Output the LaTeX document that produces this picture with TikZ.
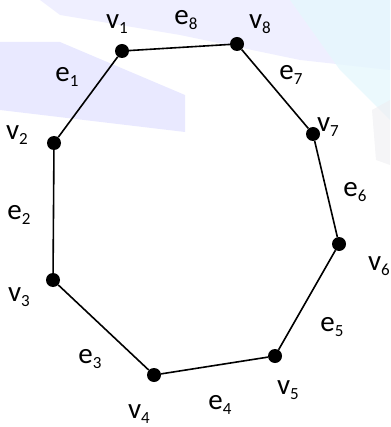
\documentclass[tikz,border=0pt]{standalone}
\usepackage{fontspec}
\setmainfont{Carlito}
\newcommand{\lbl}[2]{#1{\fontsize{17}{17}\selectfont\raisebox{-4.5pt}{#2}}}
\begin{document}
\begin{tikzpicture}[x=1pt,y=-1pt,
  vtx/.style={circle,fill=black,inner sep=0pt,minimum size=14pt},
  edg/.style={line width=1.6pt,black},
  lab/.style={font=\fontsize{29}{29}\selectfont,inner sep=0pt}]
\useasboundingbox (0,0) rectangle (390,427);
% faint background
\fill[blue!10!white,opacity=0.6] (40,0) -- (390,0) -- (390,70) -- (300,60) -- (180,35) -- (60,15) -- cycle;
\fill[cyan!10!white,opacity=0.8] (290,0) -- (390,0) -- (390,120) -- (340,70) -- cycle;
\fill[blue!14!white,opacity=0.6] (0,42) -- (60,42) -- (185,95) -- (185,132) -- (0,110) -- cycle;
\fill[blue!8!gray!12!white,opacity=0.6] (372,110) -- (390,100) -- (390,165) -- (376,160) -- cycle;
% vertices
\node[vtx] (v1) at (122,51) {};
\node[vtx] (v8) at (237,44) {};
\node[vtx] (v7) at (313,134) {};
\node[vtx] (v6) at (339,244) {};
\node[vtx] (v5) at (275,356) {};
\node[vtx] (v4) at (154,375) {};
\node[vtx] (v3) at (53,280) {};
\node[vtx] (v2) at (54,143) {};
% edges
\draw[edg] (v1) -- (v8);
\draw[edg] (v8) -- (v7);
\draw[edg] (v7) -- (v6);
\draw[edg] (v6) -- (v5);
\draw[edg] (v5) -- (v4);
\draw[edg] (v4) -- (v3);
\draw[edg] (v3) -- (v2);
\draw[edg] (v2) -- (v1);
% vertex labels
\node[lab] (lv1) at (117,24) {\lbl{v}{1}};
\node[lab] (lv8) at (260,24) {\lbl{v}{8}};
\node[lab] (lv7) at (328,127) {\lbl{v}{7}};
\node[lab] (lv6) at (379,266) {\lbl{v}{6}};
\node[lab] (lv5) at (288,390) {\lbl{v}{5}};
\node[lab] (lv4) at (139,414) {\lbl{v}{4}};
\node[lab] (lv3) at (19,297) {\lbl{v}{3}};
\node[lab] (lv2) at (17,135) {\lbl{v}{2}};
% edge labels
\node[lab] (le8) at (186,20) {\lbl{e}{8}};
\node[lab] (le7) at (291,75) {\lbl{e}{7}};
\node[lab] (le6) at (355,192) {\lbl{e}{6}};
\node[lab] (le5) at (332,327) {\lbl{e}{5}};
\node[lab] (le4) at (220,405) {\lbl{e}{4}};
\node[lab] (le3) at (90,359) {\lbl{e}{3}};
\node[lab] (le2) at (19,215) {\lbl{e}{2}};
\node[lab] (le1) at (67,77) {\lbl{e}{1}};
\end{tikzpicture}
\end{document}
